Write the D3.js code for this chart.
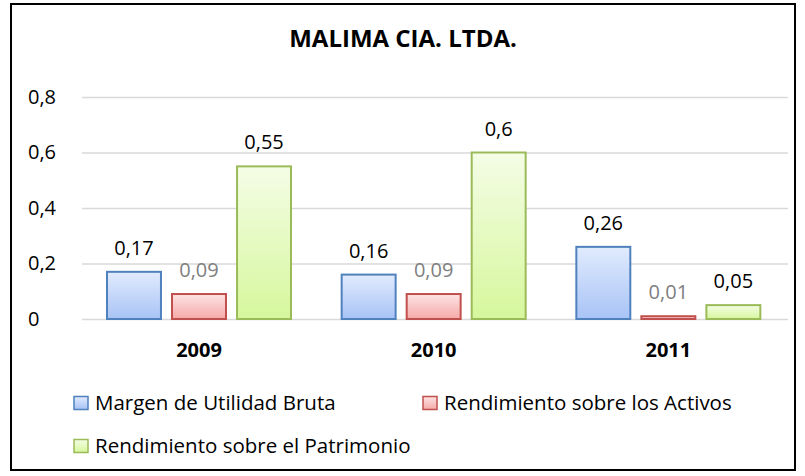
<!DOCTYPE html>
<html>
<head>
<meta charset="utf-8">
<script src="https://cdn.jsdelivr.net/npm/d3@7"></script>
<style>
body { margin: 0; background: white; }
text { font-family: "Open Sans", Lato, sans-serif; }
</style>
</head>
<body>
<div id="chart"></div>
<script>
let years = ["2009", "2010", "2011"];
let series = ["Margen de Utilidad Bruta", "Rendimiento sobre los Activos", "Rendimiento sobre el Patrimonio"];
let margen = [0.17, 0.16, 0.26];
let activos = [0.09, 0.09, 0.01];
let patrimonio = [0.55, 0.6, 0.05];
let ticks = [0, 0.2, 0.4, 0.6, 0.8];

let styles = [
    {top: "#e1ebfd", bottom: "#a8c3f6", stroke: "#4f81bd", label: "#000"},
    {top: "#fde3e3", bottom: "#f6a9a9", stroke: "#c0504d", label: "#808080"},
    {top: "#f4fde6", bottom: "#d6f79c", stroke: "#9bbb59", label: "#000"}
];
let values = [margen, activos, patrimonio];

let W = 805, H = 476;
let svg = d3.select("#chart").append("svg").attr("width", W).attr("height", H);

let defs = svg.append("defs");
styles.forEach((s, i) => {
    let g = defs.append("linearGradient").attr("id", "grad" + i)
        .attr("x1", 0).attr("y1", 0).attr("x2", 0).attr("y2", 1);
    g.append("stop").attr("offset", "0%").attr("stop-color", s.top);
    g.append("stop").attr("offset", "100%").attr("stop-color", s.bottom);
});

svg.append("rect").attr("x", 11).attr("y", 4).attr("width", 784).attr("height", 466)
    .attr("fill", "white").attr("stroke", "black").attr("stroke-width", 2);

svg.append("text").attr("x", 403).attr("y", 47).attr("text-anchor", "middle")
    .style("font-size", "24px").style("font-weight", "bold").text("MALIMA CIA. LTDA.");

let x0 = d3.scaleBand().domain(years).range([82, 786]);
let x1 = d3.scaleBand().domain(d3.range(3)).range([25, 209]).paddingInner(0.17);
let y = d3.scaleLinear().domain([0, 0.8]).range([319, 97]);

let yAxis = svg.append("g").attr("transform", "translate(82,0)")
    .call(d3.axisLeft(y).tickValues(ticks).tickSize(-706).tickPadding(14)
        .tickFormat(d => d3.format(".1~f")(d).replace(".", ",")));
yAxis.select(".domain").remove();
yAxis.selectAll(".tick line").attr("stroke", "#d9d9d9").attr("stroke-width", 1.5);
yAxis.selectAll(".tick text").attr("text-anchor", "start").attr("x", -54)
    .style("font-size", "20px").attr("fill", "#000");

let groups = svg.selectAll("g.year").data(years).enter().append("g").attr("class", "year")
    .attr("transform", d => `translate(${x0(d)},0)`);

groups.each(function(yr, j) {
    let g = d3.select(this);
    values.forEach((vals, i) => {
        let v = vals[j];
        g.append("rect")
            .attr("x", x1(i)).attr("y", y(v))
            .attr("width", x1.bandwidth()).attr("height", y(0) - y(v))
            .attr("fill", `url(#grad${i})`)
            .attr("stroke", styles[i].stroke).attr("stroke-width", 2);
        g.append("text")
            .attr("x", x1(i) + x1.bandwidth() / 2).attr("y", y(v) - 17)
            .attr("text-anchor", "middle").style("font-size", "20px")
            .attr("fill", styles[i].label)
            .text(String(v).replace(".", ","));
    });
    g.append("text").attr("x", x1(1) + x1.bandwidth() / 2).attr("y", 357)
        .attr("text-anchor", "middle").style("font-size", "20px").style("font-weight", "bold")
        .text(yr);
});

let legendPos = [[74, 403], [423, 403], [74, 446]];
series.forEach((s, i) => {
    let lg = svg.append("g").attr("transform", `translate(${legendPos[i][0]},${legendPos[i][1]})`);
    lg.append("rect").attr("x", 0).attr("y", -6.5).attr("width", 14).attr("height", 13)
        .attr("fill", `url(#grad${i})`).attr("stroke", styles[i].stroke).attr("stroke-width", 1.5);
    lg.append("text").attr("x", 21).attr("y", 0).attr("dy", "0.35em")
        .style("font-size", "20.5px").text(s);
});
</script>
</body>
</html>
